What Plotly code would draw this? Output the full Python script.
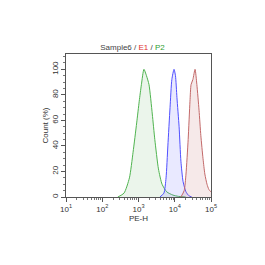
import plotly.graph_objects as go

green_x = [269, 398, 562, 708, 891, 1047, 1202, 1413, 1660, 1950, 2399, 2818, 3548, 4467, 6026, 8913, 12589, 19953]
green_y = [0, 3, 15, 35, 58, 75, 88, 100, 95, 88, 65, 45, 22, 10, 4, 1.5, 0.5, 0]
blue_x = [3890, 5012, 5754, 6457, 7413, 8318, 9550, 10471, 11482, 13183, 14791, 16982, 20417, 24547, 29512]
blue_y = [0, 3, 15, 40, 70, 92, 100, 95, 78, 55, 28, 12, 4, 1, 0]
red_x = [14791, 18197, 20417, 23442, 26303, 28184, 31623, 36308, 40738, 46774, 52481, 60256, 67608, 77625, 87096, 100000]
red_y = [0, 5, 18, 45, 75, 88, 92, 100, 88, 68, 48, 30, 18, 10, 6, 4]

x_tickvals = [10, 100, 1000, 10000, 100000]
x_ticktext = ["10<sup>1</sup>", "10<sup>2</sup>", "10<sup>3</sup>", "10<sup>4</sup>", "10<sup>5</sup>"]
y_tickvals = [0, 20, 40, 60, 80, 100]

series = [
    (green_x, green_y, "rgb(80,180,80)", "rgba(90,175,90,0.12)"),
    (blue_x, blue_y, "rgb(80,80,255)", "rgba(110,110,255,0.15)"),
    (red_x, red_y, "rgb(195,105,105)", "rgba(200,120,120,0.16)"),
]

fig = go.Figure()
for xs, ys, lc, fc in series:
    fig.add_trace(go.Scatter(x=xs, y=ys, mode="lines", fill="tozeroy", fillcolor=fc,
                             line=dict(color=lc, width=1, shape="spline", smoothing=0.6),
                             showlegend=False, hoverinfo="skip"))

font = dict(family="Liberation Sans, Arial, sans-serif", size=8, color="#333")
fig.update_layout(
    width=265, height=265,
    margin=dict(l=66, r=54, t=54, b=68),
    paper_bgcolor="white", plot_bgcolor="white",
    font=font,
    title=dict(text="Sample6 / <span style='color:#e03030'>E1</span> / <span style='color:#30a030'>P2</span>",
               x=0.5, xanchor="center", y=1 - 47 / 265, yanchor="middle", font=dict(size=8, color="#444")),
    xaxis=dict(type="log", range=[1, 5], tickvals=x_tickvals, ticktext=x_ticktext,
               showgrid=False, zeroline=False, showline=True, linecolor="#555", linewidth=1, mirror=True,
               ticks="outside", ticklen=4, tickcolor="#555",
               minor=dict(ticks="outside", ticklen=2, tickcolor="#777", dtick="D1", showgrid=False),
               title=dict(text="PE-H", font=dict(size=8), standoff=0),
               tickfont=dict(size=8)),
    yaxis=dict(range=[0, 112], tickvals=y_tickvals, tickangle=-90,
               showgrid=False, zeroline=False, showline=True, linecolor="#555", linewidth=1, mirror=True,
               ticks="outside", ticklen=4, tickcolor="#555",
               minor=dict(ticks="outside", ticklen=2, tickcolor="#777", dtick=5, showgrid=False),
               title=dict(text="Count (%)", font=dict(size=8), standoff=0),
               tickfont=dict(size=8)),
)

fig.write_html("out.html")
